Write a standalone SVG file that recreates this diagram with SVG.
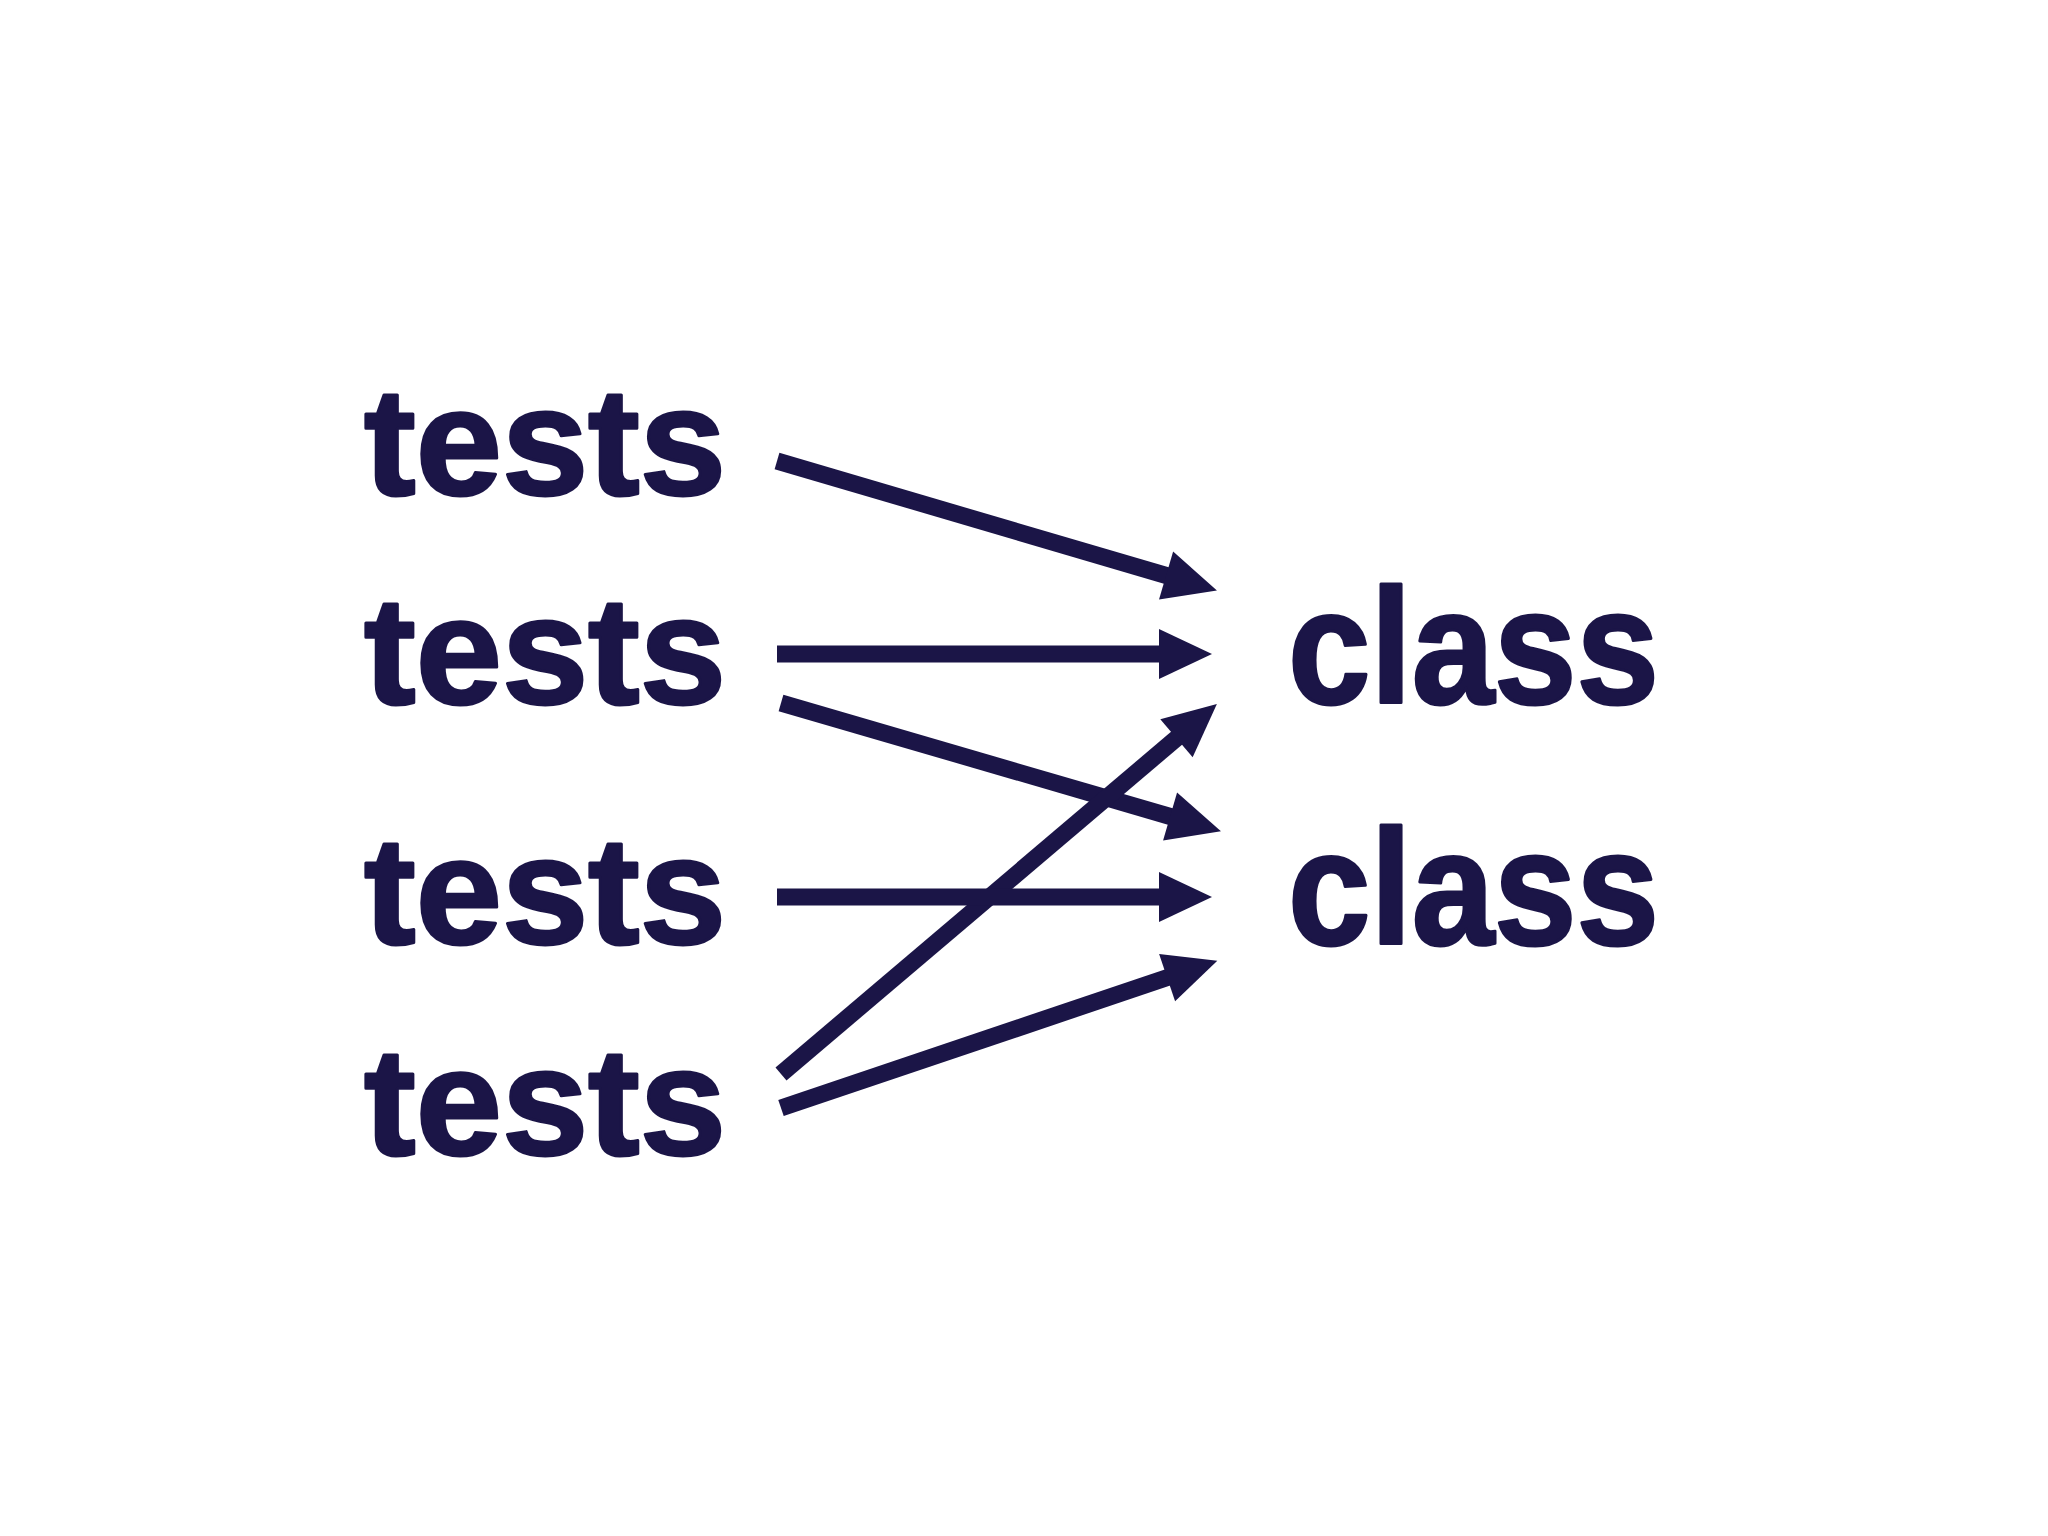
<svg xmlns="http://www.w3.org/2000/svg" width="2048" height="1536" viewBox="0 0 2048 1536">
<style>
.lbl{font-family:"Liberation Sans","DejaVu Sans",sans-serif;font-weight:bold;fill:#1b1547;stroke:#1b1547;stroke-width:3;stroke-linejoin:round;}
.t{font-size:152px;}
.c{font-size:164px;}
.ln{stroke:#1b1547;stroke-width:17;fill:none;}
</style>
<defs>
<marker id="ah" markerUnits="userSpaceOnUse" markerWidth="70" markerHeight="70" viewBox="-5 -30 70 60" refX="0" refY="0" orient="auto" overflow="visible">
<path d="M-2,-25 L51,0 L-2,25 z" fill="#1b1547"/>
</marker>
</defs>
<rect width="2048" height="1536" fill="#ffffff"/>
<g id="tests1"><text class="lbl t" x="364" y="495" textLength="362" lengthAdjust="spacingAndGlyphs">tests</text></g>
<g id="tests2"><text class="lbl t" x="364" y="704" textLength="362" lengthAdjust="spacingAndGlyphs">tests</text></g>
<g id="tests3"><text class="lbl t" x="364" y="944" textLength="362" lengthAdjust="spacingAndGlyphs">tests</text></g>
<g id="tests4"><text class="lbl t" x="364" y="1155" textLength="362" lengthAdjust="spacingAndGlyphs">tests</text></g>
<g id="class1"><text class="lbl c" x="1288" y="703" textLength="371" lengthAdjust="spacingAndGlyphs">class</text></g>
<g id="class2"><text class="lbl c" x="1288" y="944" textLength="371" lengthAdjust="spacingAndGlyphs">class</text></g>
<g id="connectors">
<line class="ln" x1="777" y1="461" x2="1168" y2="576" marker-end="url(#ah)"/>
<line class="ln" x1="777" y1="654" x2="1161" y2="654" marker-end="url(#ah)"/>
<line class="ln" x1="781" y1="703" x2="1172" y2="817" marker-end="url(#ah)"/>
<line class="ln" x1="781" y1="1074" x2="1178" y2="737" marker-end="url(#ah)"/>
<line class="ln" x1="777" y1="897" x2="1161" y2="897" marker-end="url(#ah)"/>
<line class="ln" x1="781" y1="1108" x2="1169" y2="977" marker-end="url(#ah)"/>
</g>
</svg>
